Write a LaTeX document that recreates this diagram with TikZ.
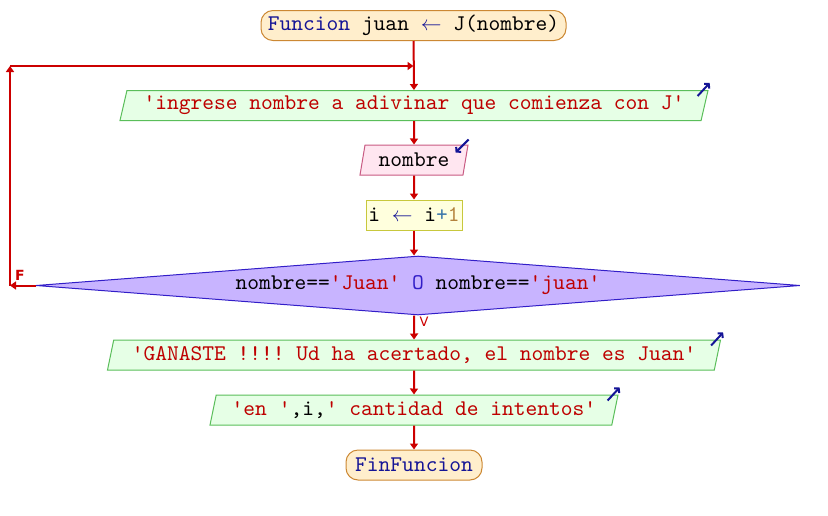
\documentclass[tikz,border=0pt]{standalone}
\usepackage{fontspec}
\setmonofont{lmmono10-regular.otf}
\newfontfamily\lblfont{DejaVu Sans}
\usepackage{tikz}
\usetikzlibrary{shapes.geometric}
\usetikzlibrary{arrows.meta}
\definecolor{flowred}{RGB}{204,0,0}
\definecolor{kwblue}{RGB}{20,20,150}
\definecolor{strred}{RGB}{190,0,0}
\definecolor{numbrown}{RGB}{180,130,60}
\definecolor{opteal}{RGB}{60,120,170}
\definecolor{termfill}{RGB}{255,238,204}
\definecolor{termdraw}{RGB}{204,136,51}
\definecolor{outfill}{RGB}{230,255,230}
\definecolor{outdraw}{RGB}{90,190,90}
\definecolor{infill}{RGB}{255,230,240}
\definecolor{indraw}{RGB}{200,90,130}
\definecolor{procfill}{RGB}{255,255,221}
\definecolor{procdraw}{RGB}{200,200,60}
\definecolor{condfill}{RGB}{200,180,255}
\definecolor{conddraw}{RGB}{50,30,200}
\tikzset{
box/.style={
  font=\ttfamily\fontsize{22.4}{24}\selectfont,
  inner sep=0pt,
  minimum height=30pt,
  line width=1pt
},
term/.style={box, rectangle, rounded corners=12pt, fill=termfill, draw=termdraw, text=kwblue},
outbox/.style={box, trapezium, trapezium left angle=70, trapezium right angle=110,
  trapezium stretches body, fill=outfill, draw=outdraw, text=strred},
inbox/.style={box, trapezium, trapezium left angle=70, trapezium right angle=110,
  trapezium stretches body, fill=infill, draw=indraw, text=black},
procbox/.style={box, rectangle, fill=procfill, draw=procdraw, text=black},
condbox/.style={box, diamond, aspect=13, fill=condfill, draw=conddraw, text=black},
flow/.style={draw=flowred, line width=2pt, ->, >={Triangle[length=6pt,width=8pt]}},
iomark/.style={draw=kwblue, line width=2pt, ->, >={Straight Barb[length=3pt,width=7pt]}},
branch/.style={text=flowred, font=\lblfont\fontsize{13}{14}\selectfont, inner sep=0pt}
}

\begin{document}
\begin{tikzpicture}[x=1pt,y=-1pt]
\useasboundingbox (0,0) rectangle (828,515);
% the nodes
\node[term, minimum width=305pt] (start) at (413.5,25.5)
  {Funcion \textcolor{black}{juan} \textcolor{kwblue}{$\leftarrow$} \textcolor{black}{J(nombre)}};
\node[outbox, minimum width=588pt] (outa) at (414,105.5)
  {'ingrese nombre a adivinar que comienza con J'};
\node[inbox, minimum width=108pt] (inp) at (414,160)
  {nombre};
\node[procbox, minimum width=96pt] (proc) at (414,215)
  {i \textcolor{kwblue}{$\leftarrow$} i\textcolor{opteal}{+}\textcolor{numbrown}{1}};
\node[condbox, minimum width=764pt, minimum height=59pt] (cond) at (418,285.5)
  {nombre==\textcolor{strred}{'Juan'} \textcolor{conddraw}{O} nombre==\textcolor{strred}{'juan'}};
\node[outbox, minimum width=613pt] (outb) at (414,355)
  {'GANASTE !!!! Ud ha acertado, el nombre es Juan'};
\node[outbox, minimum width=408pt] (outc) at (414,410)
  {'en '\textcolor{black}{,i,}' cantidad de intentos'};
\node[term, minimum width=136pt] (fin) at (414,465)
  {FinFuncion};
% the loop corners
\coordinate (fl) at (10,285.5);
\coordinate (ft) at (10,66);
\coordinate (jn) at (413.5,66);
% the arrows
\draw[flow] (start) -- (outa);
\draw[flow] (outa) -- (inp);
\draw[flow] (inp) -- (proc);
\draw[flow] (proc.south) -- (proc.south |- cond.north);
\draw[flow] (proc.south |- cond.south) -- (outb);
\draw[flow] (outb) -- (outc);
\draw[flow] (outc) -- (fin);
\draw[flow] (cond.west) -- (fl);
\draw[flow] (fl) -- (ft);
\draw[flow] (ft) -- (jn);
\node[branch, font=\lblfont\bfseries\fontsize{14}{15}\selectfont] (lf) at (20,275.5) {F};
\node[branch] (lv) at (424,322) {V};
% the io marks
\draw[iomark] ([shift={(-11,6)}]outa.top right corner) -- ([shift={(1,-7)}]outa.top right corner);
\draw[iomark] ([shift={(0,-5)}]inp.top right corner) -- ([shift={(-13,8)}]inp.top right corner);
\draw[iomark] ([shift={(-10,6)}]outb.top right corner) -- ([shift={(2,-7)}]outb.top right corner);
\draw[iomark] ([shift={(-11,6)}]outc.top right corner) -- ([shift={(1,-7)}]outc.top right corner);
\end{tikzpicture}
\end{document}
